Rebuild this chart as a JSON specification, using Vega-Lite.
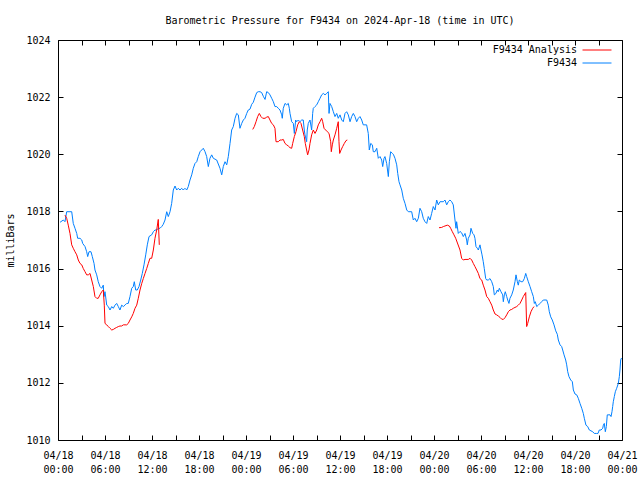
{
"$schema": "https://vega.github.io/schema/vega-lite/v6.json",
"width": 564, "height": 400,
"autosize": {"type": "none"},
"padding": {"left": 58, "top": 40, "right": 18, "bottom": 40},
"background": "white",
"title": {"text": "Barometric Pressure for F9434 on 2024-Apr-18 (time in UTC)", "font": "DejaVu Sans Mono", "fontSize": 10, "fontWeight": "normal", "color": "#000", "anchor": "middle", "frame": "group", "baseline": "bottom", "offset": -1},
"data": {"values": [
{"s":"F9434","g":0,"h":0.26,"p":1017.62},{"s":"F9434","g":0,"h":0.68,"p":1017.70},{"s":"F9434","g":0,"h":0.89,"p":1017.64},{"s":"F9434","g":0,"h":1.11,"p":1017.99},{"s":"F9434","g":0,"h":1.53,"p":1017.99},{"s":"F9434","g":0,"h":1.75,"p":1017.99},{"s":"F9434","g":0,"h":1.95,"p":1017.58},{"s":"F9434","g":0,"h":2.17,"p":1017.41},{"s":"F9434","g":0,"h":2.39,"p":1017.23},{"s":"F9434","g":0,"h":2.51,"p":1017.06},{"s":"F9434","g":0,"h":2.81,"p":1017.06},{"s":"F9434","g":0,"h":3.03,"p":1017.00},{"s":"F9434","g":0,"h":3.15,"p":1016.88},{"s":"F9434","g":0,"h":3.45,"p":1016.77},{"s":"F9434","g":0,"h":3.66,"p":1016.59},{"s":"F9434","g":0,"h":3.79,"p":1016.42},{"s":"F9434","g":0,"h":3.96,"p":1016.59},{"s":"F9434","g":0,"h":4.21,"p":1016.59},{"s":"F9434","g":0,"h":4.38,"p":1016.42},{"s":"F9434","g":0,"h":4.60,"p":1016.18},{"s":"F9434","g":0,"h":4.72,"p":1015.95},{"s":"F9434","g":0,"h":4.94,"p":1015.78},{"s":"F9434","g":0,"h":5.14,"p":1015.54},{"s":"F9434","g":0,"h":5.36,"p":1015.37},{"s":"F9434","g":0,"h":5.58,"p":1015.31},{"s":"F9434","g":0,"h":5.78,"p":1015.42},{"s":"F9434","g":0,"h":5.87,"p":1015.02},{"s":"F9434","g":0,"h":6.00,"p":1015.19},{"s":"F9434","g":0,"h":6.22,"p":1014.72},{"s":"F9434","g":0,"h":6.42,"p":1014.67},{"s":"F9434","g":0,"h":6.64,"p":1014.55},{"s":"F9434","g":0,"h":6.86,"p":1014.67},{"s":"F9434","g":0,"h":7.06,"p":1014.61},{"s":"F9434","g":0,"h":7.28,"p":1014.72},{"s":"F9434","g":0,"h":7.49,"p":1014.78},{"s":"F9434","g":0,"h":7.70,"p":1014.67},{"s":"F9434","g":0,"h":7.91,"p":1014.55},{"s":"F9434","g":0,"h":8.13,"p":1014.72},{"s":"F9434","g":0,"h":8.34,"p":1014.67},{"s":"F9434","g":0,"h":8.55,"p":1014.72},{"s":"F9434","g":0,"h":8.77,"p":1014.78},{"s":"F9434","g":0,"h":8.97,"p":1014.78},{"s":"F9434","g":0,"h":9.19,"p":1015.02},{"s":"F9434","g":0,"h":9.41,"p":1015.31},{"s":"F9434","g":0,"h":9.61,"p":1015.37},{"s":"F9434","g":0,"h":9.74,"p":1015.54},{"s":"F9434","g":0,"h":9.92,"p":1015.25},{"s":"F9434","g":0,"h":10.12,"p":1015.25},{"s":"F9434","g":0,"h":10.34,"p":1015.37},{"s":"F9434","g":0,"h":10.56,"p":1015.60},{"s":"F9434","g":0,"h":10.76,"p":1015.83},{"s":"F9434","g":0,"h":10.98,"p":1016.13},{"s":"F9434","g":0,"h":11.20,"p":1016.48},{"s":"F9434","g":0,"h":11.40,"p":1016.83},{"s":"F9434","g":0,"h":11.62,"p":1017.12},{"s":"F9434","g":0,"h":11.96,"p":1017.18},{"s":"F9434","g":0,"h":12.17,"p":1017.29},{"s":"F9434","g":0,"h":12.38,"p":1017.35},{"s":"F9434","g":0,"h":12.60,"p":1017.35},{"s":"F9434","g":0,"h":12.80,"p":1017.41},{"s":"F9434","g":0,"h":13.02,"p":1017.41},{"s":"F9434","g":0,"h":13.24,"p":1017.47},{"s":"F9434","g":0,"h":13.44,"p":1017.55},{"s":"F9434","g":0,"h":13.66,"p":1017.70},{"s":"F9434","g":0,"h":13.88,"p":1017.99},{"s":"F9434","g":0,"h":14.08,"p":1017.82},{"s":"F9434","g":0,"h":14.30,"p":1017.99},{"s":"F9434","g":0,"h":14.51,"p":1018.28},{"s":"F9434","g":0,"h":14.72,"p":1018.75},{"s":"F9434","g":0,"h":14.94,"p":1018.89},{"s":"F9434","g":0,"h":15.15,"p":1018.75},{"s":"F9434","g":0,"h":15.36,"p":1018.81},{"s":"F9434","g":0,"h":15.57,"p":1018.75},{"s":"F9434","g":0,"h":15.79,"p":1018.81},{"s":"F9434","g":0,"h":15.99,"p":1018.75},{"s":"F9434","g":0,"h":16.21,"p":1018.81},{"s":"F9434","g":0,"h":16.43,"p":1018.75},{"s":"F9434","g":0,"h":16.63,"p":1018.87},{"s":"F9434","g":0,"h":16.85,"p":1019.10},{"s":"F9434","g":0,"h":17.07,"p":1019.28},{"s":"F9434","g":0,"h":17.27,"p":1019.51},{"s":"F9434","g":0,"h":17.49,"p":1019.68},{"s":"F9434","g":0,"h":17.71,"p":1019.74},{"s":"F9434","g":0,"h":17.91,"p":1019.92},{"s":"F9434","g":0,"h":18.13,"p":1020.09},{"s":"F9434","g":0,"h":18.34,"p":1020.15},{"s":"F9434","g":0,"h":18.55,"p":1020.21},{"s":"F9434","g":0,"h":18.77,"p":1020.09},{"s":"F9434","g":0,"h":18.98,"p":1019.92},{"s":"F9434","g":0,"h":19.19,"p":1019.57},{"s":"F9434","g":0,"h":19.40,"p":1019.86},{"s":"F9434","g":0,"h":19.62,"p":1019.98},{"s":"F9434","g":0,"h":19.83,"p":1019.86},{"s":"F9434","g":0,"h":20.04,"p":1019.83},{"s":"F9434","g":0,"h":20.26,"p":1019.80},{"s":"F9434","g":0,"h":20.68,"p":1019.51},{"s":"F9434","g":0,"h":20.90,"p":1019.28},{"s":"F9434","g":0,"h":21.10,"p":1019.57},{"s":"F9434","g":0,"h":21.32,"p":1019.74},{"s":"F9434","g":0,"h":21.54,"p":1019.63},{"s":"F9434","g":0,"h":21.74,"p":1019.92},{"s":"F9434","g":0,"h":21.96,"p":1020.38},{"s":"F9434","g":0,"h":22.17,"p":1020.85},{"s":"F9434","g":0,"h":22.38,"p":1020.97},{"s":"F9434","g":0,"h":22.60,"p":1021.26},{"s":"F9434","g":0,"h":22.81,"p":1021.43},{"s":"F9434","g":0,"h":23.02,"p":1021.38},{"s":"F9434","g":0,"h":23.23,"p":1020.91},{"s":"F9434","g":0,"h":23.45,"p":1021.08},{"s":"F9434","g":0,"h":23.66,"p":1021.20},{"s":"F9434","g":0,"h":23.87,"p":1021.26},{"s":"F9434","g":0,"h":24.09,"p":1021.43},{"s":"F9434","g":0,"h":24.29,"p":1021.55},{"s":"F9434","g":0,"h":24.51,"p":1021.58},{"s":"F9434","g":0,"h":24.73,"p":1021.75},{"s":"F9434","g":0,"h":24.93,"p":1021.82},{"s":"F9434","g":0,"h":25.15,"p":1022.00},{"s":"F9434","g":0,"h":25.37,"p":1022.16},{"s":"F9434","g":0,"h":25.57,"p":1022.19},{"s":"F9434","g":0,"h":25.79,"p":1022.19},{"s":"F9434","g":0,"h":26.00,"p":1022.16},{"s":"F9434","g":0,"h":26.21,"p":1022.03},{"s":"F9434","g":0,"h":26.43,"p":1021.92},{"s":"F9434","g":0,"h":26.64,"p":1022.19},{"s":"F9434","g":0,"h":26.85,"p":1022.16},{"s":"F9434","g":0,"h":27.06,"p":1022.08},{"s":"F9434","g":0,"h":27.28,"p":1021.96},{"s":"F9434","g":0,"h":27.49,"p":1021.84},{"s":"F9434","g":0,"h":27.70,"p":1021.67},{"s":"F9434","g":0,"h":27.92,"p":1021.67},{"s":"F9434","g":0,"h":28.12,"p":1021.61},{"s":"F9434","g":0,"h":28.34,"p":1021.55},{"s":"F9434","g":0,"h":28.56,"p":1021.38},{"s":"F9434","g":0,"h":28.63,"p":1021.26},{"s":"F9434","g":0,"h":28.76,"p":1021.61},{"s":"F9434","g":0,"h":28.98,"p":1021.78},{"s":"F9434","g":0,"h":29.20,"p":1021.73},{"s":"F9434","g":0,"h":29.40,"p":1021.78},{"s":"F9434","g":0,"h":29.53,"p":1021.61},{"s":"F9434","g":0,"h":29.62,"p":1021.43},{"s":"F9434","g":0,"h":29.83,"p":1021.14},{"s":"F9434","g":0,"h":30.04,"p":1021.08},{"s":"F9434","g":0,"h":30.17,"p":1020.73},{"s":"F9434","g":0,"h":30.34,"p":1021.20},{"s":"F9434","g":0,"h":30.47,"p":1021.14},{"s":"F9434","g":0,"h":30.68,"p":1021.20},{"s":"F9434","g":0,"h":30.89,"p":1021.14},{"s":"F9434","g":0,"h":31.11,"p":1021.20},{"s":"F9434","g":0,"h":31.31,"p":1021.20},{"s":"F9434","g":0,"h":31.44,"p":1020.85},{"s":"F9434","g":0,"h":31.53,"p":1020.68},{"s":"F9434","g":0,"h":31.74,"p":1020.44},{"s":"F9434","g":0,"h":31.82,"p":1020.85},{"s":"F9434","g":0,"h":31.95,"p":1021.08},{"s":"F9434","g":0,"h":32.17,"p":1021.20},{"s":"F9434","g":0,"h":32.38,"p":1020.85},{"s":"F9434","g":0,"h":32.51,"p":1021.43},{"s":"F9434","g":0,"h":32.59,"p":1021.61},{"s":"F9434","g":0,"h":32.81,"p":1021.67},{"s":"F9434","g":0,"h":33.03,"p":1021.73},{"s":"F9434","g":0,"h":33.23,"p":1021.84},{"s":"F9434","g":0,"h":33.45,"p":1021.96},{"s":"F9434","g":0,"h":33.66,"p":1022.08},{"s":"F9434","g":0,"h":33.87,"p":1022.13},{"s":"F9434","g":0,"h":34.09,"p":1022.08},{"s":"F9434","g":0,"h":34.30,"p":1022.13},{"s":"F9434","g":0,"h":34.51,"p":1022.19},{"s":"F9434","g":0,"h":34.60,"p":1021.43},{"s":"F9434","g":0,"h":34.72,"p":1021.78},{"s":"F9434","g":0,"h":34.94,"p":1021.67},{"s":"F9434","g":0,"h":35.15,"p":1021.49},{"s":"F9434","g":0,"h":35.36,"p":1021.32},{"s":"F9434","g":0,"h":35.58,"p":1021.43},{"s":"F9434","g":0,"h":35.78,"p":1021.26},{"s":"F9434","g":0,"h":36.00,"p":1021.38},{"s":"F9434","g":0,"h":36.22,"p":1021.20},{"s":"F9434","g":0,"h":36.42,"p":1021.14},{"s":"F9434","g":0,"h":36.64,"p":1021.43},{"s":"F9434","g":0,"h":36.85,"p":1021.49},{"s":"F9434","g":0,"h":37.06,"p":1021.38},{"s":"F9434","g":0,"h":37.28,"p":1021.14},{"s":"F9434","g":0,"h":37.49,"p":1021.32},{"s":"F9434","g":0,"h":37.70,"p":1021.43},{"s":"F9434","g":0,"h":37.91,"p":1021.32},{"s":"F9434","g":0,"h":38.13,"p":1021.14},{"s":"F9434","g":0,"h":38.34,"p":1021.26},{"s":"F9434","g":0,"h":38.55,"p":1021.32},{"s":"F9434","g":0,"h":38.77,"p":1021.20},{"s":"F9434","g":0,"h":38.97,"p":1021.03},{"s":"F9434","g":0,"h":39.19,"p":1021.03},{"s":"F9434","g":0,"h":39.40,"p":1021.03},{"s":"F9434","g":0,"h":39.61,"p":1020.73},{"s":"F9434","g":0,"h":39.74,"p":1020.15},{"s":"F9434","g":0,"h":39.92,"p":1020.38},{"s":"F9434","g":0,"h":40.13,"p":1020.33},{"s":"F9434","g":0,"h":40.25,"p":1020.09},{"s":"F9434","g":0,"h":40.47,"p":1020.09},{"s":"F9434","g":0,"h":40.69,"p":1020.21},{"s":"F9434","g":0,"h":40.89,"p":1019.86},{"s":"F9434","g":0,"h":41.11,"p":1019.92},{"s":"F9434","g":0,"h":41.32,"p":1019.80},{"s":"F9434","g":0,"h":41.45,"p":1019.57},{"s":"F9434","g":0,"h":41.62,"p":1019.86},{"s":"F9434","g":0,"h":41.74,"p":1019.92},{"s":"F9434","g":0,"h":41.96,"p":1019.68},{"s":"F9434","g":0,"h":42.17,"p":1019.22},{"s":"F9434","g":0,"h":42.30,"p":1019.74},{"s":"F9434","g":0,"h":42.47,"p":1020.09},{"s":"F9434","g":0,"h":42.68,"p":1020.03},{"s":"F9434","g":0,"h":42.81,"p":1020.00},{"s":"F9434","g":0,"h":43.02,"p":1019.86},{"s":"F9434","g":0,"h":43.24,"p":1019.63},{"s":"F9434","g":0,"h":43.37,"p":1019.33},{"s":"F9434","g":0,"h":43.53,"p":1019.04},{"s":"F9434","g":0,"h":43.66,"p":1018.93},{"s":"F9434","g":0,"h":43.88,"p":1018.75},{"s":"F9434","g":0,"h":44.08,"p":1018.46},{"s":"F9434","g":0,"h":44.30,"p":1018.28},{"s":"F9434","g":0,"h":44.52,"p":1018.05},{"s":"F9434","g":0,"h":44.72,"p":1017.99},{"s":"F9434","g":0,"h":44.94,"p":1017.99},{"s":"F9434","g":0,"h":45.15,"p":1017.99},{"s":"F9434","g":0,"h":45.36,"p":1017.70},{"s":"F9434","g":0,"h":45.57,"p":1017.76},{"s":"F9434","g":0,"h":45.79,"p":1017.64},{"s":"F9434","g":0,"h":46.00,"p":1017.76},{"s":"F9434","g":0,"h":46.21,"p":1018.11},{"s":"F9434","g":0,"h":46.43,"p":1017.99},{"s":"F9434","g":0,"h":46.63,"p":1017.76},{"s":"F9434","g":0,"h":46.85,"p":1017.64},{"s":"F9434","g":0,"h":47.07,"p":1017.58},{"s":"F9434","g":0,"h":47.27,"p":1017.82},{"s":"F9434","g":0,"h":47.49,"p":1017.70},{"s":"F9434","g":0,"h":47.70,"p":1017.93},{"s":"F9434","g":0,"h":47.91,"p":1018.17},{"s":"F9434","g":0,"h":48.13,"p":1018.05},{"s":"F9434","g":0,"h":48.34,"p":1018.40},{"s":"F9434","g":0,"h":48.55,"p":1018.23},{"s":"F9434","g":0,"h":48.77,"p":1018.34},{"s":"F9434","g":0,"h":49.19,"p":1018.34},{"s":"F9434","g":0,"h":49.40,"p":1018.40},{"s":"F9434","g":0,"h":49.62,"p":1018.23},{"s":"F9434","g":0,"h":49.82,"p":1018.34},{"s":"F9434","g":0,"h":50.04,"p":1018.40},{"s":"F9434","g":0,"h":50.26,"p":1018.34},{"s":"F9434","g":0,"h":50.46,"p":1018.23},{"s":"F9434","g":0,"h":50.68,"p":1017.70},{"s":"F9434","g":0,"h":50.81,"p":1017.41},{"s":"F9434","g":0,"h":50.89,"p":1017.64},{"s":"F9434","g":0,"h":51.10,"p":1017.23},{"s":"F9434","g":0,"h":51.32,"p":1017.30},{"s":"F9434","g":0,"h":51.53,"p":1017.25},{"s":"F9434","g":0,"h":51.74,"p":1017.12},{"s":"F9434","g":0,"h":51.96,"p":1017.23},{"s":"F9434","g":0,"h":52.17,"p":1017.00},{"s":"F9434","g":0,"h":52.25,"p":1016.83},{"s":"F9434","g":0,"h":52.38,"p":1017.06},{"s":"F9434","g":0,"h":52.60,"p":1017.18},{"s":"F9434","g":0,"h":52.72,"p":1017.41},{"s":"F9434","g":0,"h":52.94,"p":1017.23},{"s":"F9434","g":0,"h":53.11,"p":1017.18},{"s":"F9434","g":0,"h":53.23,"p":1017.06},{"s":"F9434","g":0,"h":53.36,"p":1016.77},{"s":"F9434","g":0,"h":53.53,"p":1016.71},{"s":"F9434","g":0,"h":53.66,"p":1016.65},{"s":"F9434","g":0,"h":53.87,"p":1016.83},{"s":"F9434","g":0,"h":54.00,"p":1016.65},{"s":"F9434","g":0,"h":54.13,"p":1016.48},{"s":"F9434","g":0,"h":54.29,"p":1016.24},{"s":"F9434","g":0,"h":54.42,"p":1016.00},{"s":"F9434","g":0,"h":54.60,"p":1015.65},{"s":"F9434","g":0,"h":54.73,"p":1015.60},{"s":"F9434","g":0,"h":54.93,"p":1015.60},{"s":"F9434","g":0,"h":55.15,"p":1015.65},{"s":"F9434","g":0,"h":55.37,"p":1015.54},{"s":"F9434","g":0,"h":55.57,"p":1015.37},{"s":"F9434","g":0,"h":55.70,"p":1015.08},{"s":"F9434","g":0,"h":55.91,"p":1015.13},{"s":"F9434","g":0,"h":56.08,"p":1015.25},{"s":"F9434","g":0,"h":56.21,"p":1015.19},{"s":"F9434","g":0,"h":56.34,"p":1015.31},{"s":"F9434","g":0,"h":56.55,"p":1015.19},{"s":"F9434","g":0,"h":56.77,"p":1015.08},{"s":"F9434","g":0,"h":56.85,"p":1014.84},{"s":"F9434","g":0,"h":56.98,"p":1015.08},{"s":"F9434","g":0,"h":57.10,"p":1015.19},{"s":"F9434","g":0,"h":57.28,"p":1015.02},{"s":"F9434","g":0,"h":57.41,"p":1014.90},{"s":"F9434","g":0,"h":57.57,"p":1014.78},{"s":"F9434","g":0,"h":57.70,"p":1014.96},{"s":"F9434","g":0,"h":57.92,"p":1015.08},{"s":"F9434","g":0,"h":58.12,"p":1015.25},{"s":"F9434","g":0,"h":58.34,"p":1015.54},{"s":"F9434","g":0,"h":58.47,"p":1015.78},{"s":"F9434","g":0,"h":58.64,"p":1015.54},{"s":"F9434","g":0,"h":58.76,"p":1015.42},{"s":"F9434","g":0,"h":58.89,"p":1015.60},{"s":"F9434","g":0,"h":59.11,"p":1015.54},{"s":"F9434","g":0,"h":59.32,"p":1015.54},{"s":"F9434","g":0,"h":59.53,"p":1015.65},{"s":"F9434","g":0,"h":59.71,"p":1015.83},{"s":"F9434","g":0,"h":59.83,"p":1015.72},{"s":"F9434","g":0,"h":60.04,"p":1015.54},{"s":"F9434","g":0,"h":60.26,"p":1015.37},{"s":"F9434","g":0,"h":60.47,"p":1015.19},{"s":"F9434","g":0,"h":60.68,"p":1015.02},{"s":"F9434","g":0,"h":60.81,"p":1014.78},{"s":"F9434","g":0,"h":60.93,"p":1014.84},{"s":"F9434","g":0,"h":61.11,"p":1014.67},{"s":"F9434","g":0,"h":61.32,"p":1014.72},{"s":"F9434","g":0,"h":61.53,"p":1014.78},{"s":"F9434","g":0,"h":61.75,"p":1014.84},{"s":"F9434","g":0,"h":61.95,"p":1014.90},{"s":"F9434","g":0,"h":62.39,"p":1014.90},{"s":"F9434","g":0,"h":62.59,"p":1014.72},{"s":"F9434","g":0,"h":62.72,"p":1014.49},{"s":"F9434","g":0,"h":62.90,"p":1014.31},{"s":"F9434","g":0,"h":63.10,"p":1014.20},{"s":"F9434","g":0,"h":63.32,"p":1014.03},{"s":"F9434","g":0,"h":63.54,"p":1013.82},{"s":"F9434","g":0,"h":63.74,"p":1013.70},{"s":"F9434","g":0,"h":63.87,"p":1013.50},{"s":"F9434","g":0,"h":64.09,"p":1013.33},{"s":"F9434","g":0,"h":64.30,"p":1013.27},{"s":"F9434","g":0,"h":64.43,"p":1013.15},{"s":"F9434","g":0,"h":64.60,"p":1012.98},{"s":"F9434","g":0,"h":64.81,"p":1012.80},{"s":"F9434","g":0,"h":64.94,"p":1012.63},{"s":"F9434","g":0,"h":65.07,"p":1012.39},{"s":"F9434","g":0,"h":65.23,"p":1012.22},{"s":"F9434","g":0,"h":65.45,"p":1012.10},{"s":"F9434","g":0,"h":65.66,"p":1012.04},{"s":"F9434","g":0,"h":65.79,"p":1011.75},{"s":"F9434","g":0,"h":66.00,"p":1011.61},{"s":"F9434","g":0,"h":66.22,"p":1011.58},{"s":"F9434","g":0,"h":66.42,"p":1011.46},{"s":"F9434","g":0,"h":66.64,"p":1011.28},{"s":"F9434","g":0,"h":66.86,"p":1011.11},{"s":"F9434","g":0,"h":67.06,"p":1010.93},{"s":"F9434","g":0,"h":67.19,"p":1010.76},{"s":"F9434","g":0,"h":67.40,"p":1010.52},{"s":"F9434","g":0,"h":67.62,"p":1010.47},{"s":"F9434","g":0,"h":67.83,"p":1010.35},{"s":"F9434","g":0,"h":68.04,"p":1010.32},{"s":"F9434","g":0,"h":68.26,"p":1010.29},{"s":"F9434","g":0,"h":68.46,"p":1010.23},{"s":"F9434","g":0,"h":68.77,"p":1010.23},{"s":"F9434","g":0,"h":68.94,"p":1010.23},{"s":"F9434","g":0,"h":69.10,"p":1010.35},{"s":"F9434","g":0,"h":69.32,"p":1010.35},{"s":"F9434","g":0,"h":69.54,"p":1010.41},{"s":"F9434","g":0,"h":69.62,"p":1010.52},{"s":"F9434","g":0,"h":69.74,"p":1010.58},{"s":"F9434","g":0,"h":69.87,"p":1010.29},{"s":"F9434","g":0,"h":70.00,"p":1010.47},{"s":"F9434","g":0,"h":70.12,"p":1010.88},{"s":"F9434","g":0,"h":70.34,"p":1010.88},{"s":"F9434","g":0,"h":70.47,"p":1010.88},{"s":"F9434","g":0,"h":70.60,"p":1010.82},{"s":"F9434","g":0,"h":70.72,"p":1010.99},{"s":"F9434","g":0,"h":70.81,"p":1011.17},{"s":"F9434","g":0,"h":70.89,"p":1011.34},{"s":"F9434","g":0,"h":71.02,"p":1011.52},{"s":"F9434","g":0,"h":71.15,"p":1011.69},{"s":"F9434","g":0,"h":71.32,"p":1011.81},{"s":"F9434","g":0,"h":71.53,"p":1011.98},{"s":"F9434","g":0,"h":71.66,"p":1012.22},{"s":"F9434","g":0,"h":71.74,"p":1012.45},{"s":"F9434","g":0,"h":71.83,"p":1012.80},{"s":"F9434","g":0,"h":71.94,"p":1012.87},
{"s":"F9434 Analysis","g":1,"h":0.89,"p":1017.87},{"s":"F9434 Analysis","g":1,"h":1.11,"p":1017.76},{"s":"F9434 Analysis","g":1,"h":1.31,"p":1017.52},{"s":"F9434 Analysis","g":1,"h":1.53,"p":1017.23},{"s":"F9434 Analysis","g":1,"h":1.75,"p":1016.83},{"s":"F9434 Analysis","g":1,"h":1.95,"p":1016.71},{"s":"F9434 Analysis","g":1,"h":2.17,"p":1016.59},{"s":"F9434 Analysis","g":1,"h":2.39,"p":1016.48},{"s":"F9434 Analysis","g":1,"h":2.59,"p":1016.30},{"s":"F9434 Analysis","g":1,"h":2.81,"p":1016.18},{"s":"F9434 Analysis","g":1,"h":3.03,"p":1016.13},{"s":"F9434 Analysis","g":1,"h":3.23,"p":1016.00},{"s":"F9434 Analysis","g":1,"h":3.45,"p":1015.89},{"s":"F9434 Analysis","g":1,"h":3.66,"p":1015.78},{"s":"F9434 Analysis","g":1,"h":3.87,"p":1015.78},{"s":"F9434 Analysis","g":1,"h":4.09,"p":1015.83},{"s":"F9434 Analysis","g":1,"h":4.30,"p":1015.60},{"s":"F9434 Analysis","g":1,"h":4.51,"p":1015.37},{"s":"F9434 Analysis","g":1,"h":4.72,"p":1015.02},{"s":"F9434 Analysis","g":1,"h":4.94,"p":1014.96},{"s":"F9434 Analysis","g":1,"h":5.14,"p":1014.96},{"s":"F9434 Analysis","g":1,"h":5.36,"p":1015.08},{"s":"F9434 Analysis","g":1,"h":5.58,"p":1015.19},{"s":"F9434 Analysis","g":1,"h":5.78,"p":1015.25},{"s":"F9434 Analysis","g":1,"h":5.91,"p":1014.72},{"s":"F9434 Analysis","g":1,"h":6.00,"p":1014.08},{"s":"F9434 Analysis","g":1,"h":6.22,"p":1014.03},{"s":"F9434 Analysis","g":1,"h":6.42,"p":1013.97},{"s":"F9434 Analysis","g":1,"h":6.64,"p":1013.91},{"s":"F9434 Analysis","g":1,"h":6.86,"p":1013.85},{"s":"F9434 Analysis","g":1,"h":7.06,"p":1013.87},{"s":"F9434 Analysis","g":1,"h":7.28,"p":1013.91},{"s":"F9434 Analysis","g":1,"h":7.49,"p":1013.94},{"s":"F9434 Analysis","g":1,"h":7.70,"p":1013.97},{"s":"F9434 Analysis","g":1,"h":7.91,"p":1013.99},{"s":"F9434 Analysis","g":1,"h":8.13,"p":1013.99},{"s":"F9434 Analysis","g":1,"h":8.34,"p":1014.03},{"s":"F9434 Analysis","g":1,"h":8.77,"p":1014.03},{"s":"F9434 Analysis","g":1,"h":8.97,"p":1014.08},{"s":"F9434 Analysis","g":1,"h":9.19,"p":1014.20},{"s":"F9434 Analysis","g":1,"h":9.41,"p":1014.31},{"s":"F9434 Analysis","g":1,"h":9.61,"p":1014.43},{"s":"F9434 Analysis","g":1,"h":9.83,"p":1014.61},{"s":"F9434 Analysis","g":1,"h":10.05,"p":1014.72},{"s":"F9434 Analysis","g":1,"h":10.25,"p":1014.96},{"s":"F9434 Analysis","g":1,"h":10.47,"p":1015.25},{"s":"F9434 Analysis","g":1,"h":10.69,"p":1015.48},{"s":"F9434 Analysis","g":1,"h":10.89,"p":1015.65},{"s":"F9434 Analysis","g":1,"h":11.11,"p":1015.83},{"s":"F9434 Analysis","g":1,"h":11.32,"p":1016.00},{"s":"F9434 Analysis","g":1,"h":11.53,"p":1016.18},{"s":"F9434 Analysis","g":1,"h":11.74,"p":1016.36},{"s":"F9434 Analysis","g":1,"h":11.96,"p":1016.36},{"s":"F9434 Analysis","g":1,"h":12.17,"p":1016.65},{"s":"F9434 Analysis","g":1,"h":12.38,"p":1017.06},{"s":"F9434 Analysis","g":1,"h":12.60,"p":1017.35},{"s":"F9434 Analysis","g":1,"h":12.80,"p":1017.72},{"s":"F9434 Analysis","g":1,"h":12.93,"p":1016.83},
{"s":"F9434 Analysis","g":2,"h":24.86,"p":1020.87},{"s":"F9434 Analysis","g":2,"h":25.06,"p":1020.97},{"s":"F9434 Analysis","g":2,"h":25.28,"p":1021.14},{"s":"F9434 Analysis","g":2,"h":25.49,"p":1021.32},{"s":"F9434 Analysis","g":2,"h":25.70,"p":1021.43},{"s":"F9434 Analysis","g":2,"h":25.91,"p":1021.32},{"s":"F9434 Analysis","g":2,"h":26.13,"p":1021.26},{"s":"F9434 Analysis","g":2,"h":26.43,"p":1021.26},{"s":"F9434 Analysis","g":2,"h":26.64,"p":1021.30},{"s":"F9434 Analysis","g":2,"h":26.85,"p":1021.32},{"s":"F9434 Analysis","g":2,"h":27.06,"p":1021.20},{"s":"F9434 Analysis","g":2,"h":27.28,"p":1021.08},{"s":"F9434 Analysis","g":2,"h":27.49,"p":1021.03},{"s":"F9434 Analysis","g":2,"h":27.70,"p":1020.91},{"s":"F9434 Analysis","g":2,"h":27.83,"p":1020.44},{"s":"F9434 Analysis","g":2,"h":28.12,"p":1020.44},{"s":"F9434 Analysis","g":2,"h":28.34,"p":1020.50},{"s":"F9434 Analysis","g":2,"h":28.56,"p":1020.50},{"s":"F9434 Analysis","g":2,"h":28.76,"p":1020.52},{"s":"F9434 Analysis","g":2,"h":28.98,"p":1020.38},{"s":"F9434 Analysis","g":2,"h":29.20,"p":1020.33},{"s":"F9434 Analysis","g":2,"h":29.40,"p":1020.29},{"s":"F9434 Analysis","g":2,"h":29.62,"p":1020.23},{"s":"F9434 Analysis","g":2,"h":29.83,"p":1020.21},{"s":"F9434 Analysis","g":2,"h":29.96,"p":1020.38},{"s":"F9434 Analysis","g":2,"h":30.17,"p":1020.62},{"s":"F9434 Analysis","g":2,"h":30.38,"p":1020.79},{"s":"F9434 Analysis","g":2,"h":30.60,"p":1021.03},{"s":"F9434 Analysis","g":2,"h":30.80,"p":1021.14},{"s":"F9434 Analysis","g":2,"h":31.02,"p":1021.08},{"s":"F9434 Analysis","g":2,"h":31.23,"p":1020.85},{"s":"F9434 Analysis","g":2,"h":31.44,"p":1020.62},{"s":"F9434 Analysis","g":2,"h":31.57,"p":1020.38},{"s":"F9434 Analysis","g":2,"h":31.74,"p":1020.15},{"s":"F9434 Analysis","g":2,"h":31.87,"p":1019.98},{"s":"F9434 Analysis","g":2,"h":32.04,"p":1020.15},{"s":"F9434 Analysis","g":2,"h":32.17,"p":1020.38},{"s":"F9434 Analysis","g":2,"h":32.38,"p":1020.68},{"s":"F9434 Analysis","g":2,"h":32.59,"p":1020.85},{"s":"F9434 Analysis","g":2,"h":32.81,"p":1020.73},{"s":"F9434 Analysis","g":2,"h":33.03,"p":1020.85},{"s":"F9434 Analysis","g":2,"h":33.23,"p":1021.03},{"s":"F9434 Analysis","g":2,"h":33.45,"p":1021.14},{"s":"F9434 Analysis","g":2,"h":33.66,"p":1021.26},{"s":"F9434 Analysis","g":2,"h":33.79,"p":1021.14},{"s":"F9434 Analysis","g":2,"h":33.96,"p":1020.91},{"s":"F9434 Analysis","g":2,"h":34.17,"p":1020.85},{"s":"F9434 Analysis","g":2,"h":34.38,"p":1020.79},{"s":"F9434 Analysis","g":2,"h":34.60,"p":1020.73},{"s":"F9434 Analysis","g":2,"h":34.81,"p":1020.44},{"s":"F9434 Analysis","g":2,"h":34.89,"p":1020.09},{"s":"F9434 Analysis","g":2,"h":35.02,"p":1020.33},{"s":"F9434 Analysis","g":2,"h":35.15,"p":1020.50},{"s":"F9434 Analysis","g":2,"h":35.36,"p":1020.68},{"s":"F9434 Analysis","g":2,"h":35.58,"p":1020.91},{"s":"F9434 Analysis","g":2,"h":35.78,"p":1021.14},{"s":"F9434 Analysis","g":2,"h":35.87,"p":1020.44},{"s":"F9434 Analysis","g":2,"h":35.96,"p":1020.03},{"s":"F9434 Analysis","g":2,"h":36.13,"p":1020.15},{"s":"F9434 Analysis","g":2,"h":36.34,"p":1020.27},{"s":"F9434 Analysis","g":2,"h":36.55,"p":1020.38},{"s":"F9434 Analysis","g":2,"h":36.77,"p":1020.48},{"s":"F9434 Analysis","g":2,"h":36.93,"p":1020.50},
{"s":"F9434 Analysis","g":3,"h":48.64,"p":1017.43},{"s":"F9434 Analysis","g":3,"h":48.98,"p":1017.44},{"s":"F9434 Analysis","g":3,"h":49.19,"p":1017.47},{"s":"F9434 Analysis","g":3,"h":49.40,"p":1017.49},{"s":"F9434 Analysis","g":3,"h":49.70,"p":1017.52},{"s":"F9434 Analysis","g":3,"h":49.96,"p":1017.49},{"s":"F9434 Analysis","g":3,"h":50.13,"p":1017.41},{"s":"F9434 Analysis","g":3,"h":50.34,"p":1017.29},{"s":"F9434 Analysis","g":3,"h":50.55,"p":1017.18},{"s":"F9434 Analysis","g":3,"h":50.77,"p":1017.06},{"s":"F9434 Analysis","g":3,"h":51.32,"p":1016.65},{"s":"F9434 Analysis","g":3,"h":51.53,"p":1016.36},{"s":"F9434 Analysis","g":3,"h":51.74,"p":1016.30},{"s":"F9434 Analysis","g":3,"h":51.96,"p":1016.32},{"s":"F9434 Analysis","g":3,"h":52.38,"p":1016.32},{"s":"F9434 Analysis","g":3,"h":52.60,"p":1016.36},{"s":"F9434 Analysis","g":3,"h":52.81,"p":1016.30},{"s":"F9434 Analysis","g":3,"h":53.02,"p":1016.18},{"s":"F9434 Analysis","g":3,"h":53.23,"p":1016.07},{"s":"F9434 Analysis","g":3,"h":53.45,"p":1015.95},{"s":"F9434 Analysis","g":3,"h":53.66,"p":1015.83},{"s":"F9434 Analysis","g":3,"h":53.87,"p":1015.65},{"s":"F9434 Analysis","g":3,"h":54.09,"p":1015.60},{"s":"F9434 Analysis","g":3,"h":54.29,"p":1015.42},{"s":"F9434 Analysis","g":3,"h":54.51,"p":1015.25},{"s":"F9434 Analysis","g":3,"h":54.73,"p":1015.02},{"s":"F9434 Analysis","g":3,"h":54.93,"p":1014.96},{"s":"F9434 Analysis","g":3,"h":55.15,"p":1014.84},{"s":"F9434 Analysis","g":3,"h":55.37,"p":1014.72},{"s":"F9434 Analysis","g":3,"h":55.57,"p":1014.55},{"s":"F9434 Analysis","g":3,"h":55.79,"p":1014.41},{"s":"F9434 Analysis","g":3,"h":56.00,"p":1014.38},{"s":"F9434 Analysis","g":3,"h":56.21,"p":1014.34},{"s":"F9434 Analysis","g":3,"h":56.43,"p":1014.29},{"s":"F9434 Analysis","g":3,"h":56.64,"p":1014.23},{"s":"F9434 Analysis","g":3,"h":56.85,"p":1014.22},{"s":"F9434 Analysis","g":3,"h":57.06,"p":1014.28},{"s":"F9434 Analysis","g":3,"h":57.28,"p":1014.38},{"s":"F9434 Analysis","g":3,"h":57.49,"p":1014.49},{"s":"F9434 Analysis","g":3,"h":57.70,"p":1014.55},{"s":"F9434 Analysis","g":3,"h":57.92,"p":1014.57},{"s":"F9434 Analysis","g":3,"h":58.12,"p":1014.61},{"s":"F9434 Analysis","g":3,"h":58.34,"p":1014.64},{"s":"F9434 Analysis","g":3,"h":58.56,"p":1014.67},{"s":"F9434 Analysis","g":3,"h":58.76,"p":1014.72},{"s":"F9434 Analysis","g":3,"h":58.98,"p":1014.78},{"s":"F9434 Analysis","g":3,"h":59.20,"p":1014.90},{"s":"F9434 Analysis","g":3,"h":59.40,"p":1015.02},{"s":"F9434 Analysis","g":3,"h":59.71,"p":1015.16},{"s":"F9434 Analysis","g":3,"h":59.83,"p":1013.97},{"s":"F9434 Analysis","g":3,"h":59.96,"p":1014.08},{"s":"F9434 Analysis","g":3,"h":60.17,"p":1014.31},{"s":"F9434 Analysis","g":3,"h":60.38,"p":1014.49},{"s":"F9434 Analysis","g":3,"h":60.60,"p":1014.61},{"s":"F9434 Analysis","g":3,"h":60.77,"p":1014.67}
]},
"layer": [
{
"mark": {"type": "line", "strokeWidth": 1, "interpolate": "linear"},
"encoding": {
"x": {"field": "h", "type": "quantitative", "scale": {"domain": [0, 72], "nice": false, "zero": false}, "axis": {"orient": "bottom", "title": null, "values": [0,3,6,9,12,15,18,21,24,27,30,33,36,39,42,45,48,51,54,57,60,63,66,69,72], "labelExpr": "datum.value % 6 == 0 ? ['04/' + (18 + floor(datum.value / 24)), (datum.value % 24 < 10 ? '0' : '') + (datum.value % 24) + ':00'] : ''", "labelOverlap": false, "labelFlush": false, "labelPadding": 15, "labelLineHeight": 14, "labelBaseline": "top"}},
"y": {"field": "p", "type": "quantitative", "scale": {"domain": [1010, 1024], "nice": false, "zero": false}, "axis": {"orient": "left", "title": "milliBars", "values": [1010,1012,1014,1016,1018,1020,1022,1024], "format": "d", "labelPadding": 13, "titleX": -48, "titleY": 200, "titleAngle": -90, "titleAlign": "center", "titleBaseline": "middle", "labelFlush": false, "labelOverlap": false}},
"color": {"field": "s", "type": "nominal", "scale": {"domain": ["F9434 Analysis", "F9434"], "range": ["#ff0000", "#0080ff"]}, "legend": {"title": null, "orient": "none", "legendX": 531, "legendY": 2, "symbolType": "M-2,0L2,0", "symbolSize": 210, "symbolStrokeWidth": 1, "labelAlign": "right", "labelOffset": -28, "labelFont": "DejaVu Sans Mono", "labelFontSize": 10, "labelColor": "#000", "rowPadding": -1, "padding": 0}},
"detail": {"field": "g", "type": "nominal"}
}
},
{
"mark": {"type": "point", "opacity": 0},
"encoding": {
"x": {"field": "h", "type": "quantitative", "axis": {"orient": "top", "title": null, "labels": false, "values": [0,3,6,9,12,15,18,21,24,27,30,33,36,39,42,45,48,51,54,57,60,63,66,69,72]}},
"y": {"field": "p", "type": "quantitative", "axis": {"orient": "right", "title": null, "labels": false, "values": [1010,1012,1014,1016,1018,1020,1022,1024]}}
}
}
],
"resolve": {"axis": {"x": "independent", "y": "independent"}},
"config": {
"font": "DejaVu Sans Mono",
"view": {"stroke": "#000", "strokeWidth": 1},
"axis": {"domain": false, "grid": false, "ticks": true, "tickSize": -5, "tickColor": "#000", "tickWidth": 1, "labelFont": "DejaVu Sans Mono", "labelFontSize": 10, "labelColor": "#000", "titleFont": "DejaVu Sans Mono", "titleFontSize": 10, "titleFontWeight": "normal", "titleColor": "#000"}
}
}
